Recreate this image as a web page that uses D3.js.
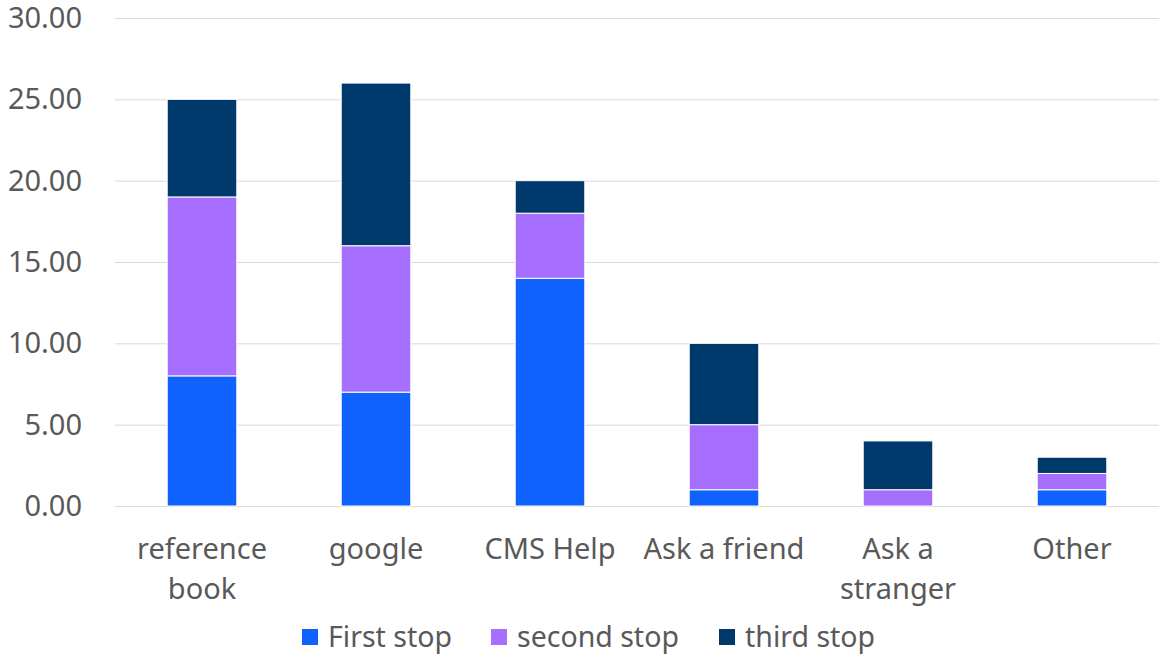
<html>
<head>
<script src="https://d3js.org/d3.v7.min.js"></script>
<style>
  body { margin: 0; background: #fff; }
  svg text { font-family: "Noto Sans", Roboto, sans-serif; fill: #595959; }
</style>
</head>
<body>
<script>
var categories = [["reference", "book"], ["google"], ["CMS Help"], ["Ask a friend"], ["Ask a", "stranger"], ["Other"]];
var seriesNames = ["First stop", "second stop", "third stop"];
var firstStop = [8, 7, 14, 1, 0, 1];
var secondStop = [11, 9, 4, 4, 1, 1];
var thirdStop = [6, 10, 2, 5, 3, 1];
var yTicks = [0, 5, 10, 15, 20, 25, 30];
var colors = ["#0f62fe", "#a56eff", "#003a6d"];

var width = 1159, height = 654;
var plotLeft = 115, plotRight = 1159, plotTop = 18, plotBottom = 506;

var rows = categories.map(function (c, i) {
  return { key: i, s0: firstStop[i], s1: secondStop[i], s2: thirdStop[i] };
});
var stack = d3.stack().keys(["s0", "s1", "s2"])(rows);

var x = d3.scaleBand().domain(d3.range(categories.length)).range([plotLeft, plotRight]).paddingInner(0.6).paddingOuter(0.3);
var y = d3.scaleLinear().domain([0, 30]).range([plotBottom, plotTop]);

var svg = d3.select("body").append("svg").attr("width", width).attr("height", height);

// gridlines
svg.append("g").selectAll("line").data(yTicks).enter().append("line")
  .attr("x1", plotLeft).attr("x2", plotRight)
  .attr("y1", function (d) { return y(d) + 0.5; })
  .attr("y2", function (d) { return y(d) + 0.5; })
  .attr("stroke", "#d9d9d9").attr("stroke-width", 1);

svg.append("g").selectAll("text").data(yTicks).enter().append("text")
  .attr("x", 82).attr("y", function (d) { return y(d); })
  .attr("dy", "0.35em").attr("text-anchor", "end")
  .style("font-size", "29px")
  .text(function (d) { return d.toFixed(2); });

// bars
svg.append("g").selectAll("g").data(stack).enter().append("g")
  .attr("fill", function (d, i) { return colors[i]; })
  .selectAll("rect").data(function (d) { return d; }).enter().append("rect")
  .attr("x", function (d) { return x(d.data.key); })
  .attr("width", x.bandwidth())
  .attr("y", function (d) { return y(d[1]); })
  .attr("height", function (d) { return y(d[0]) - y(d[1]); })
  .attr("stroke", "#fff").attr("stroke-width", 1);

// category labels
var cat = svg.append("g").selectAll("text").data(categories).enter().append("text")
  .attr("text-anchor", "middle")
  .style("font-size", "29px")
  .attr("transform", function (d, i) { return "translate(" + (x(i) + x.bandwidth() / 2) + ",559)"; });
cat.selectAll("tspan").data(function (d) { return d; }).enter().append("tspan")
  .attr("x", 0).attr("y", function (d, i) { return i * 40; })
  .text(function (d) { return d; });

// legend
var legendX = [302, 491, 719];
var lg = svg.append("g").selectAll("g").data(seriesNames).enter().append("g")
  .attr("transform", function (d, i) { return "translate(" + legendX[i] + ",637)"; });
lg.append("rect").attr("x", 0).attr("y", -8).attr("width", 16).attr("height", 16)
  .attr("fill", function (d, i) { return colors[i]; });
lg.append("text").attr("x", 26).attr("y", 0).attr("dy", "0.35em")
  .style("font-size", "28.5px")
  .text(function (d) { return d; });
</script>
</body>
</html>
